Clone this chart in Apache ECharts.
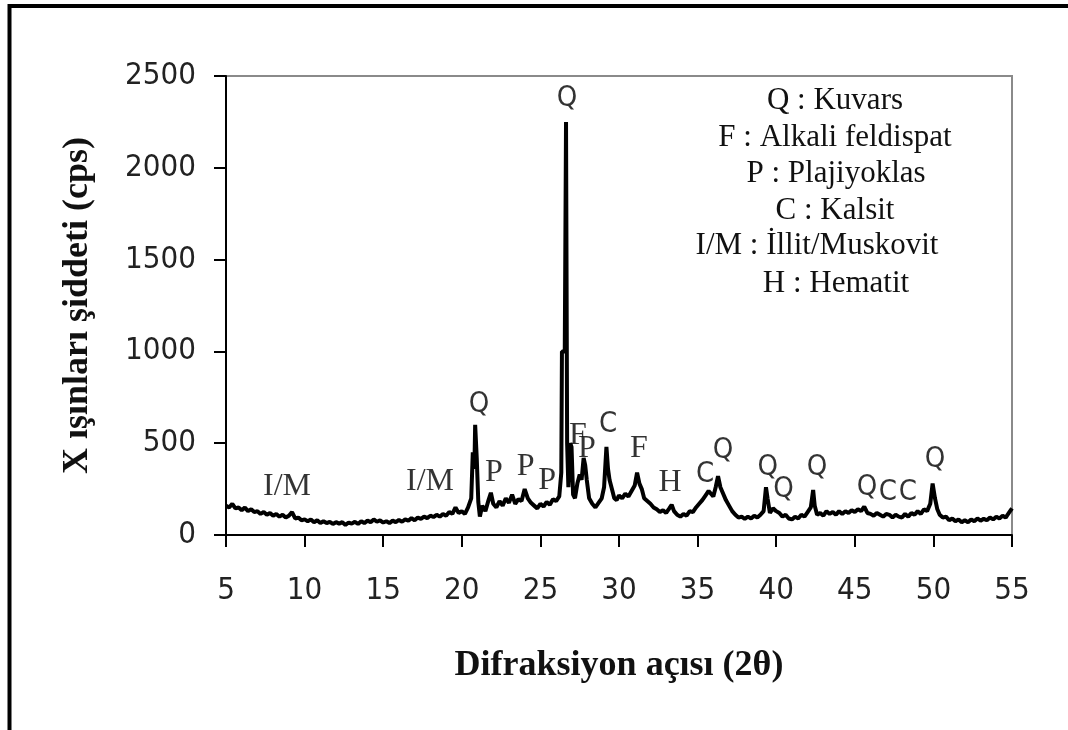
<!DOCTYPE html>
<html>
<head>
<meta charset="utf-8">
<script src="https://cdn.jsdelivr.net/npm/echarts@6/dist/echarts.min.js"></script>
<style>
html,body{margin:0;padding:0;background:#fff;}
#chart{width:1068px;height:730px;}
</style>
</head>
<body>
<div id="chart"></div>
<script>
// 2θ positions (degrees)
var twoTheta = [
5.0,5.2,5.4,5.6,5.8,6.0,6.2,6.4,6.6,6.8,7.0,7.2,7.4,7.6,7.8,8.0,8.2,8.4,8.6,8.8,
9.0,9.2,9.4,9.6,9.8,10.0,10.2,10.4,10.6,10.8,11.0,11.2,11.4,11.6,11.8,12.0,12.2,12.4,12.6,12.8,
13.0,13.2,13.4,13.6,13.8,14.0,14.2,14.4,14.6,14.8,15.0,15.2,15.4,15.6,15.8,16.0,16.2,16.4,16.6,16.8,
17.0,17.2,17.4,17.6,17.8,18.0,18.2,18.4,18.6,18.8,19.0,19.2,19.4,19.6,19.8,20.0,20.2,20.4,20.6,20.7,
20.8,20.85,20.95,21.05,21.15,21.3,21.5,21.7,21.85,22.0,22.2,22.4,22.6,22.8,23.0,23.2,23.4,23.6,23.8,24.0,
24.2,24.4,24.6,24.8,25.0,25.2,25.4,25.6,25.8,26.0,26.2,26.33,26.37,26.55,26.63,26.7,26.78,26.9,26.98,27.08,
27.2,27.35,27.5,27.62,27.75,27.85,27.95,28.1,28.3,28.5,28.7,28.9,29.05,29.2,29.3,29.4,29.55,29.7,29.85,30.0,
30.2,30.4,30.6,30.8,31.0,31.15,31.3,31.45,31.6,31.8,32.0,32.2,32.4,32.6,32.8,33.0,33.2,33.35,33.5,33.7,
33.9,34.1,34.3,34.5,34.7,34.9,35.1,35.3,35.5,35.7,35.85,36.0,36.15,36.3,36.45,36.6,36.8,37.0,37.2,37.4,
37.6,37.8,38.0,38.2,38.4,38.6,38.8,39.0,39.2,39.35,39.45,39.6,39.8,40.0,40.2,40.4,40.6,40.8,41.0,41.2,
41.4,41.6,41.8,42.0,42.2,42.35,42.45,42.6,42.8,43.0,43.2,43.4,43.6,43.8,44.0,44.2,44.4,44.6,44.8,45.0,
45.2,45.4,45.6,45.8,46.0,46.2,46.4,46.6,46.8,47.0,47.2,47.4,47.6,47.8,48.0,48.2,48.4,48.6,48.8,49.0,
49.2,49.4,49.6,49.8,49.95,50.1,50.25,50.4,50.6,50.8,51.0,51.2,51.4,51.6,51.8,52.0,52.2,52.4,52.6,52.8,
53.0,53.2,53.4,53.6,53.8,54.0,54.2,54.4,54.6,54.8,55.0
];
// X-ray intensity (cps)
var intensity = [
160,150,170,145,150,135,150,130,140,125,130,115,125,110,120,105,115,100,110,95,
105,125,90,95,80,85,75,85,70,80,65,75,65,72,60,70,62,70,55,68,
62,72,60,75,65,78,70,85,72,80,68,75,65,78,70,82,72,85,78,92,
80,95,88,100,92,105,98,110,100,115,105,125,115,150,120,130,115,150,200,450,
360,600,420,180,100,160,130,190,230,170,150,185,160,200,175,220,170,195,185,250,
200,175,160,145,170,155,180,165,195,185,210,340,1000,1000,2250,500,260,500,480,220,
200,280,330,300,420,380,300,200,170,150,175,200,260,480,360,300,250,200,190,215,
200,225,210,240,270,340,280,250,200,185,170,150,140,125,135,120,145,165,130,110,
100,115,105,130,125,150,170,190,215,240,225,210,260,320,260,230,190,160,130,110,
95,100,88,100,90,105,95,110,130,260,200,120,145,130,120,100,110,90,85,100,
90,110,100,125,150,245,160,110,120,105,130,115,125,110,130,115,130,120,135,125,
140,130,155,120,115,105,120,110,100,115,110,95,110,100,95,115,100,120,110,130,
115,140,130,170,280,200,140,110,95,100,80,90,75,85,70,80,70,85,75,90,
78,88,80,95,85,100,90,105,95,120,145
];
// Peak annotations: [2θ, cps, mineral code]
var sansPeakX = [26.69, 21.09, 29.30, 35.47, 36.62, 39.47, 40.47, 42.60, 45.78, 47.11, 48.38, 50.10];
var sansPeakY = [2380, 710, 600, 332, 463, 370, 250, 370, 261, 234, 234, 414];
var sansPeakText = ['Q','Q','C','C','Q','Q','Q','Q','Q','C','C','Q'];
var serifPeakX = [8.88, 17.98, 22.04, 24.06, 25.43, 27.39, 27.96, 31.27, 33.24];
var serifPeakY = [261, 289, 338, 370, 294, 540, 470, 468, 283];
var serifPeakText = ['I/M','I/M','P','P','P','F','P','F','H'];
// Legend lines
var legendLines = ['Q : Kuvars','F : Alkali feldispat','P : Plajiyoklas','C : Kalsit','I/M : \u0130llit/Muskovit','H : Hematit'];
var xTicks = [5,10,15,20,25,30,35,40,45,50,55];
var yTicks = [0,500,1000,1500,2000,2500];

var lineData = twoTheta.map(function(t,i){return [t,intensity[i]];});
var sansData = sansPeakX.map(function(x,i){return [x,sansPeakY[i],sansPeakText[i]];});
var serifData = serifPeakX.map(function(x,i){return [x,serifPeakY[i],serifPeakText[i]];});

var legendX = [835, 835, 836, 835, 817, 836];
var legendY = [101, 138, 174, 211, 246, 284];

var chart = echarts.init(document.getElementById('chart'), null, {renderer:'canvas'});
var graphics = [{
  type:'rect', shape:{x:9.5,y:6,width:1100,height:800},
  style:{fill:'none',stroke:'#000',lineWidth:4}, z:100
}];
legendLines.forEach(function(t,i){
  graphics.push({type:'text', x:legendX[i], y:legendY[i],
    style:{text:t, textAlign:'center', textVerticalAlign:'middle',
      font:'31px "Liberation Serif", "Times New Roman", serif', fill:'#111'}});
});

var labelFont = '"DejaVu Sans Condensed","Liberation Sans",Arial,sans-serif';

chart.setOption({
  animation:false,
  backgroundColor:'#fff',
  grid:{left:226,right:56,top:76,bottom:195,show:true,borderColor:'#8a8a8a',borderWidth:2,backgroundColor:'transparent'},
  xAxis:{type:'value',min:xTicks[0],max:xTicks[xTicks.length-1],interval:5,
    name:'Difraksiyon a\u00e7\u0131s\u0131 (2\u03b8)',nameLocation:'middle',nameGap:113,
    nameTextStyle:{fontFamily:'"Liberation Serif", serif',fontWeight:'bold',fontSize:36,color:'#111'},
    axisLine:{show:true,lineStyle:{color:'#000',width:2}},
    axisTick:{show:true,length:12,inside:false,lineStyle:{color:'#000',width:2}},
    axisLabel:{margin:40,fontFamily:labelFont,fontSize:31,color:'#222',
      formatter:function(v){return String(v);}},
    splitLine:{show:false}},
  yAxis:{type:'value',min:yTicks[0],max:yTicks[yTicks.length-1],interval:500,
    name:'X \u0131\u015f\u0131nlar\u0131 \u015fiddeti (cps)',nameLocation:'middle',nameGap:130,nameRotate:90,
    nameTextStyle:{fontFamily:'"Liberation Serif", serif',fontWeight:'bold',fontSize:36,color:'#111'},
    axisLine:{show:true,lineStyle:{color:'#000',width:2}},
    axisTick:{show:true,length:12,inside:false,lineStyle:{color:'#000',width:2}},
    axisLabel:{margin:30,fontFamily:labelFont,fontSize:31,color:'#222',
      formatter:function(v){return String(v);}},
    splitLine:{show:false}},
  series:[
    {type:'line',data:lineData,showSymbol:false,symbol:'none',
     lineStyle:{color:'#000',width:4},z:3},
    {type:'scatter',data:sansData,symbolSize:0,z:4,
     label:{show:true,position:'inside',formatter:function(p){return p.data[2];},
       fontFamily:labelFont,fontSize:29,color:'#000'}},
    {type:'scatter',data:serifData,symbolSize:0,z:4,
     label:{show:true,position:'inside',formatter:function(p){return p.data[2];},
       fontFamily:'"Liberation Serif",serif',fontSize:32,color:'#000'}}
  ],
  graphic:graphics
});
</script>
</body>
</html>
